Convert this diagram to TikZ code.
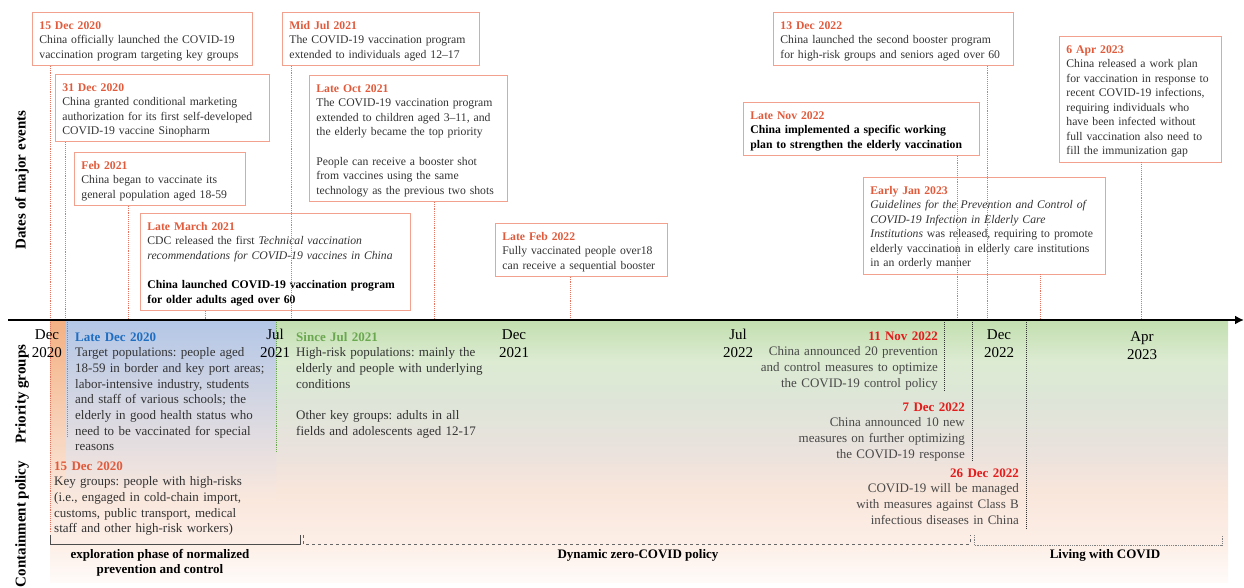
\documentclass[tikz,border=0pt]{standalone}
\usepackage{fontspec}
\setmainfont{Liberation Serif}
\usepackage{xcolor}
\usepackage{tikz}
\usetikzlibrary{positioning, arrows.meta}
\definecolor{TLtitle}{HTML}{E05A3B}
\definecolor{TLborder}{HTML}{F2A18F}
\definecolor{TLdot}{HTML}{E8745F}
\definecolor{TLtext}{HTML}{333333}
\definecolor{TLsoft}{HTML}{484848}
\definecolor{TLred}{HTML}{E41B1B}
\definecolor{TLblue}{HTML}{1F6EC1}
\definecolor{TLgreen}{HTML}{6AA84F}
\definecolor{BGa}{HTML}{FFFBF9}
\definecolor{BGb}{HTML}{FCEEE6}
\definecolor{BGc}{HTML}{F9E6DB}
\definecolor{BGd}{HTML}{EAE2DD}
\definecolor{BGe}{HTML}{DEE5D8}
\definecolor{BGf}{HTML}{DCEBD2}
\definecolor{BGg}{HTML}{C3DFB0}
\definecolor{BGmix}{HTML}{FAE8DD}
\definecolor{BLtop}{HTML}{B4C7E7}
\definecolor{ORtop}{HTML}{F4B183}
\pgfdeclareverticalshading{bandshade}{100bp}{color(0bp)=(BGa); color(25bp)=(BGa);
  color(32.7bp)=(BGb); color(42.3bp)=(BGc); color(50bp)=(BGd); color(59.6bp)=(BGe);
  color(67.3bp)=(BGf); color(75bp)=(BGg); color(100bp)=(BGg)}
\newcommand{\evdate}[1]{\textcolor{TLtitle}{\textbf{#1}}}
\hyphenpenalty=10000
\exhyphenpenalty=10000
\frenchspacing

\begin{document}
\begin{tikzpicture}[
  x=1pt, y=-1pt,
  evbox/.style={draw=TLborder, line width=0.8pt, inner xsep=7pt, inner ysep=4.5pt,
                align=left, anchor=north west, text height=12.5pt, text=TLtext,
                font=\fontsize{11.7}{14.5}\selectfont},
  grpnote/.style={align=left, inner sep=0pt, anchor=base west, text=TLtext,
                  font=\fontsize{13}{15.7}\selectfont},
  polnote/.style={align=right, inner sep=0pt, anchor=base east, text=TLsoft,
                  text width=200pt, font=\fontsize{13}{15.7}\selectfont},
  tick/.style={align=center, anchor=base, inner sep=0pt, text width=40pt,
               font=\fontsize{15}{18}\selectfont},
  sidelbl/.style={rotate=90, inner sep=0pt, font=\fontsize{15}{18}\selectfont\bfseries},
  phaselbl/.style={align=center, inner sep=0pt,
                   font=\fontsize{13}{15}\selectfont\bfseries},
  conn/.style={draw=TLdot, densely dotted, line width=0.9pt},
  bluedot/.style={draw=TLblue!70, densely dotted, line width=0.9pt},
  greendot/.style={draw=TLgreen, densely dotted, line width=0.9pt},
  blackdot/.style={draw=black!80, densely dotted, line width=1pt},
  axis/.style={line width=2.6pt, -{Latex[length=9pt, width=9pt]}},
]
\useasboundingbox (0,0) rectangle (1244,588);

% coloured bands under the time axis
\shade[shading=bandshade] (50,321) rectangle (1228,582);
\shade[top color=ORtop, bottom color=BGmix] (50,321) rectangle (66,500);
\shade[top color=BLtop, bottom color=BGmix] (66,321) rectangle (276,500);

% points on the time axis
\coordinate (axL) at (8,320);
\coordinate (axR) at (1244,320);
\coordinate (d1) at (50,320);
\coordinate (d2) at (65,320);
\coordinate (d3) at (128,320);
\coordinate (d4) at (205,320);
\coordinate (d5) at (291,320);
\coordinate (d6) at (434,320);
\coordinate (d7) at (570,320);
\coordinate (d8) at (957,320);
\coordinate (d9) at (987,320);
\coordinate (d10) at (1040,320);
\coordinate (d11) at (1141,320);
\coordinate (d1end) at (50,533);
\coordinate (gBlue) at (67,320);
\coordinate (gBlueEnd) at (67,437);
\coordinate (gGreen) at (276,320);
\coordinate (gGreenEnd) at (276,452);
\coordinate (cNov) at (944,320);
\coordinate (cNovEnd) at (944,392);
\coordinate (cDec) at (972,320);
\coordinate (cDecEnd) at (972,462);
\coordinate (cB) at (1026,320);
\coordinate (cBEnd) at (1026,530);

% major events
\node[evbox, text width=206pt] (e1) at (32,12)
  {\evdate{15 Dec 2020}\\ China officially launched the COVID-19\\
   vaccination program targeting key groups};
\node[evbox, text width=200pt] (e2) at (55,74)
  {\evdate{31 Dec 2020}\\ China granted conditional marketing\\
   authorization for its first self-developed\\ COVID-19 vaccine Sinopharm};
\node[evbox, text width=157pt] (e3) at (74,152)
  {\evdate{Feb 2021}\\ China began to vaccinate its\\ general population aged 18-59};
\node[evbox, text width=256pt] (e4) at (140,213)
  {\evdate{Late March 2021}\\ CDC released the first \textit{Technical vaccination}\\
   \textit{recommendations for COVID-19 vaccines in China}\\[15pt]
   \textcolor{black}{\textbf{China launched COVID-19 vaccination program}}\\
   \textcolor{black}{\textbf{for older adults aged over 60}}};
\node[evbox, text width=183pt] (e5) at (282,12)
  {\evdate{Mid Jul 2021}\\ The COVID-19 vaccination program\\ extended to individuals aged 12--17};
\node[evbox, text width=184pt] (e6) at (309,75)
  {\evdate{Late Oct 2021}\\ The COVID-19 vaccination program\\ extended to children aged 3--11, and\\
   the elderly became the top priority\\[15pt]
   People can receive a booster shot\\ from vaccines using the same\\
   technology as the previous two shots};
\node[evbox, text width=158pt] (e7) at (495,223)
  {\evdate{Late Feb 2022}\\ Fully vaccinated people over18\\ can receive a sequential booster};
\node[evbox, text width=226pt] (e8) at (773,12)
  {\evdate{13 Dec 2022}\\ China launched the second booster program\\
   for high-risk groups and seniors aged over 60};
\node[evbox, text width=222pt] (e9) at (743,102)
  {\evdate{Late Nov 2022}\\ \textcolor{black}{\textbf{China implemented a specific working}}\\
   \textcolor{black}{\textbf{plan to strengthen the elderly vaccination}}};
\node[evbox, text width=228pt] (e10) at (863,177)
  {\evdate{Early Jan 2023}\\ \textit{Guidelines for the Prevention and Control of}\\
   \textit{COVID-19 Infection in Elderly Care}\\
   \textit{Institutions} was released, requiring to promote\\
   elderly vaccination in elderly care institutions\\ in an orderly manner};
\node[evbox, text width=148pt] (e11) at (1059,36)
  {\evdate{6 Apr 2023}\\ China released a work plan\\ for vaccination in response to\\
   recent COVID-19 infections,\\ requiring individuals who\\ have been infected without\\
   full vaccination also need to\\ fill the immunization gap};

% event leaders
\draw[conn] (e1.south -| d1) -- (d1end);
\draw[conn] (e2.south -| d2) -- (d2);
\draw[conn] (e3.south -| d3) -- (d3);
\draw[conn] (e4.south -| d4) -- (d4);
\draw[conn] (e5.south -| d5) -- (d5);
\draw[conn] (e6.south -| d6) -- (d6);
\draw[conn] (e7.south -| d7) -- (d7);
\draw[conn] (e9.south -| d8) -- (d8);
\draw[conn] (e8.south -| d9) -- (d9);
\draw[conn] (e10.south -| d10) -- (d10);
\draw[conn] (e11.south -| d11) -- (d11);

% marks below the axis
\draw[bluedot] (gBlue) -- (gBlueEnd);
\draw[greendot] (gGreen) -- (gGreenEnd);
\draw[blackdot] (cNov) -- (cNovEnd);
\draw[blackdot] (cDec) -- (cDecEnd);
\draw[blackdot] (cB) -- (cBEnd);

\draw[axis] (axL) -- (axR);

% months
\node[tick] (mDec20) at (47,339) {Dec\\2020};
\node[tick] (mJul21) at (275,339) {Jul\\2021};
\node[tick] (mDec21) at (514,339) {Dec\\2021};
\node[tick] (mJul22) at (738,339) {Jul\\2022};
\node[tick] (mDec22) at (999,339) {Dec\\2022};
\node[tick] (mApr23) at (1142,341) {Apr\\2023};

% row titles
\node[sidelbl] (rowEvents) at (22,180) {Dates of major events};
\node[sidelbl] (rowGroups) at (22,394) {Priority groups};
\node[sidelbl] (rowPolicy) at (22,524) {Containment policy};

% priority groups
\node[grpnote, text width=200pt] (pg1) at (75,341)
  {\textcolor{TLblue}{\textbf{Late Dec 2020}}\\ Target populations: people aged\\
   18-59 in border and key port areas;\\ labor-intensive industry, students\\
   and staff of various schools; the\\ elderly in good health status who\\
   need to be vaccinated for special\\ reasons};
\node[grpnote, text width=210pt] (pg2) at (296,341)
  {\textcolor{TLgreen}{\textbf{Since Jul 2021}}\\ High-risk populations: mainly the\\
   elderly and people with underlying\\ conditions\\[15.7pt]
   Other key groups: adults in all\\ fields and adolescents aged 12-17};
\node[grpnote, text width=210pt] (pg0) at (54,470)
  {\evdate{15 Dec 2020}\\ Key groups: people with high-risks\\
   (i.e., engaged in cold-chain import,\\ customs, public transport, medical\\
   staff and other high-risk workers)};

% containment policy
\node[polnote] (cp1) at (938,340)
  {\textcolor{TLred}{\textbf{11 Nov 2022}}\\ China announced 20 prevention\\
   and control measures to optimize\\ the COVID-19 control policy};
\node[polnote] (cp2) at (965,411)
  {\textcolor{TLred}{\textbf{7 Dec 2022}}\\ China announced 10 new\\
   measures on further optimizing\\ the COVID-19 response};
\node[polnote] (cp3) at (1019,477)
  {\textcolor{TLred}{\textbf{26 Dec 2022}}\\ COVID-19 will be managed\\
   with measures against Class B\\ infectious diseases in China};

% policy phases
\coordinate (ph1a) at (50,535);
\coordinate (ph1b) at (300,535);
\coordinate (ph2a) at (303,535);
\coordinate (ph2b) at (970,535);
\coordinate (ph3a) at (974,535);
\coordinate (ph3b) at (1222,535);
\draw[black!70, line width=0.8pt] (ph1a) -- ++(0,9) -| (ph1b);
\draw[black!60, line width=0.8pt, dashed] (ph2a) -- ++(0,9) -| (ph2b);
\draw[black!50, line width=0.8pt, densely dotted] (ph3a) -- ++(0,10) -| (ph3b);
\coordinate (ph1m) at (160,545);
\coordinate (ph2m) at (638,545);
\coordinate (ph3m) at (1105,545);
\node[phaselbl, below=4pt of ph1m] (phExpl) {exploration phase of normalized\\prevention and control};
\node[phaselbl, below=4pt of ph2m] (phZero) {Dynamic zero-COVID policy};
\node[phaselbl, below=4pt of ph3m] (phLive) {Living with COVID};
\end{tikzpicture}
\end{document}
